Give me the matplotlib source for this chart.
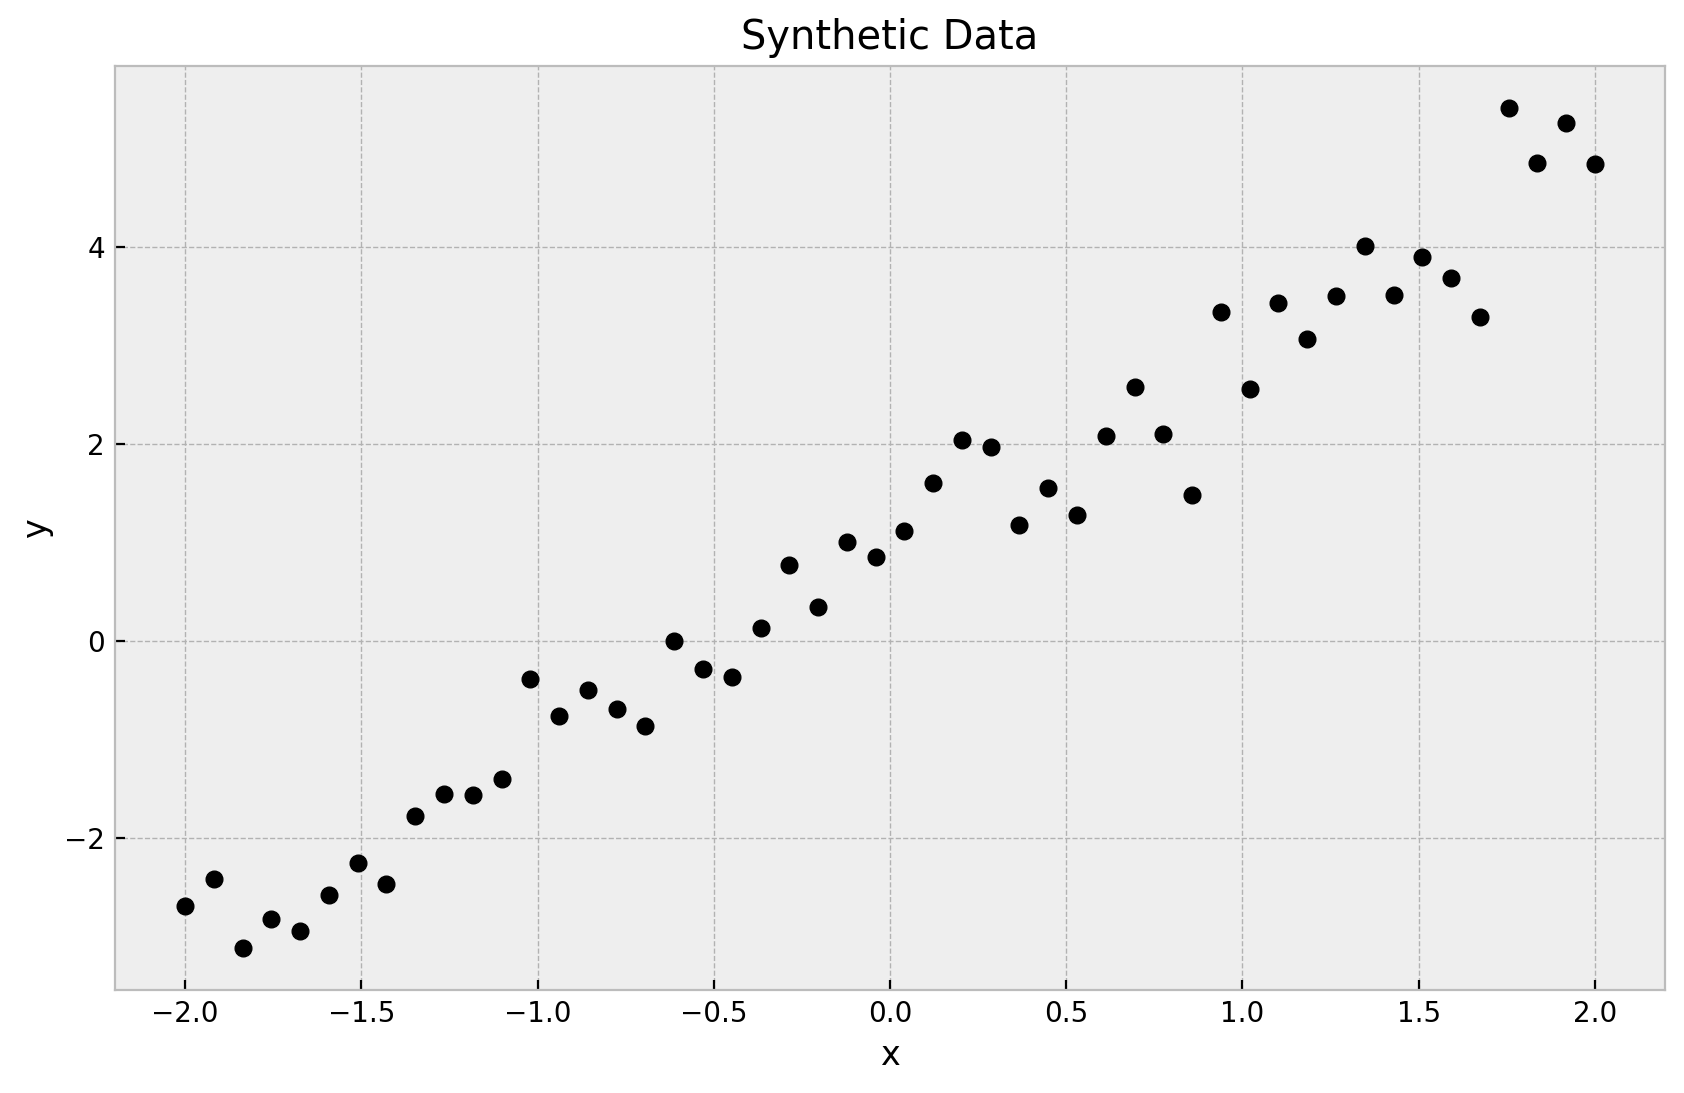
import numpy as np
import matplotlib
matplotlib.use("Agg")
import matplotlib.pyplot as plt

x = np.linspace(-2, 2, 50)
y = [-2.69, -2.42, -3.12, -2.82, -2.95, -2.58, -2.25, -2.47, -1.78, -1.55,
     -1.56, -1.40, -0.38, -0.76, -0.50, -0.69, -0.86, 0.00, -0.28, -0.36,
     0.13, 0.77, 0.35, 1.01, 0.85, 1.12, 1.61, 2.04, 1.97, 1.18,
     1.56, 1.28, 2.08, 2.58, 2.10, 1.48, 3.34, 2.56, 3.43, 3.07,
     3.51, 4.01, 3.52, 3.90, 3.69, 3.29, 5.42, 4.86, 5.26, 4.85]

plt.style.use("bmh")
plt.rcParams['xtick.direction'] = 'in'
plt.rcParams['ytick.direction'] = 'in'
DPI = 200
fig, ax = plt.subplots(figsize=(1684/DPI, 1093/DPI), dpi=DPI)
ax.scatter(x, y, color='black', zorder=3)
ax.set_title("Synthetic Data")
ax.set_xlabel("x")
ax.set_ylabel("y")
fig.subplots_adjust(left=0.068, right=0.989, top=0.94, bottom=0.094)
fig.savefig("out.png", dpi=DPI)
